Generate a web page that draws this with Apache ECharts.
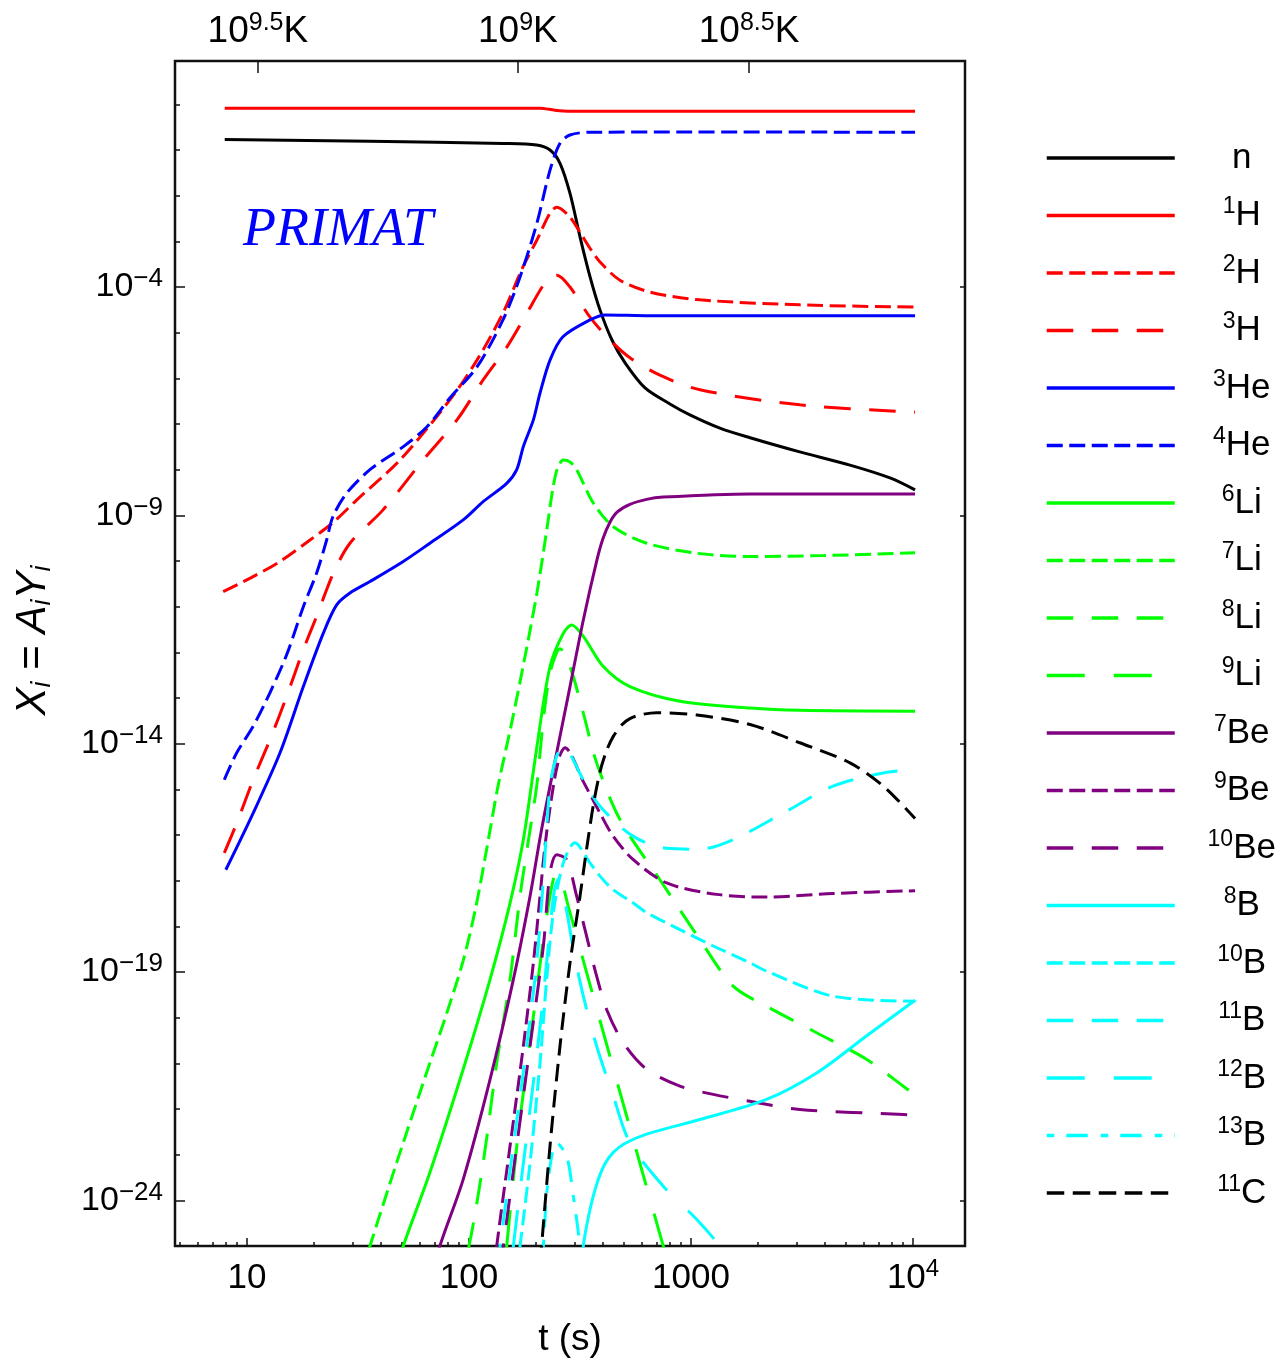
<!DOCTYPE html>
<html>
<head>
<meta charset="utf-8">
<title>BBN abundances</title>
<script src="https://cdn.jsdelivr.net/npm/echarts@6/dist/echarts.min.js"></script>
<style>
  html, body { margin: 0; padding: 0; background: #fff; }
  #chart { width: 1281px; height: 1362px; }
</style>
</head>
<body>
<div id="chart"></div>
<script>
// every point is [log10 t (s), log10 X]
const n    = [[0.9,-0.77],[1.554,-0.805],[2.155,-0.855],[2.305,-0.89],[2.365,-1.0],[2.41,-1.29],[2.455,-1.95],[2.5,-2.9],[2.545,-3.77],[2.59,-4.5],[2.644,-5.16],[2.703,-5.66],[2.793,-6.21],[2.905,-6.56],[2.995,-6.8],[3.13,-7.09],[3.266,-7.3],[3.49,-7.61],[3.716,-7.9],[3.896,-8.18],[4.009,-8.44]]
const H1   = [[0.9,-0.083],[2.2,-0.083],[2.32,-0.085],[2.387,-0.127],[2.455,-0.149],[2.6,-0.15],[4.009,-0.15]]
const H2   = [[0.893,-10.67],[1.028,-10.34],[1.149,-10.01],[1.284,-9.54],[1.387,-9.16],[1.495,-8.66],[1.689,-7.79],[1.914,-6.47],[2.036,-5.6],[2.153,-4.57],[2.243,-3.56],[2.306,-2.97],[2.365,-2.38],[2.396,-2.25],[2.455,-2.47],[2.5,-2.8],[2.545,-3.15],[2.59,-3.45],[2.68,-3.85],[2.815,-4.11],[3.04,-4.28],[3.49,-4.39],[4.009,-4.44]]
const H3   = [[0.898,-16.39],[0.954,-15.74],[1.028,-14.79],[1.104,-13.91],[1.179,-12.96],[1.254,-11.94],[1.314,-11.21],[1.389,-10.27],[1.464,-9.61],[1.613,-8.88],[1.793,-7.79],[1.946,-6.91],[2.063,-6.04],[2.171,-5.31],[2.261,-4.57],[2.351,-3.85],[2.396,-3.74],[2.455,-4.0],[2.545,-4.66],[2.635,-5.16],[2.725,-5.55],[2.86,-5.93],[3.04,-6.25],[3.49,-6.58],[4.009,-6.74]]
const He3  = [[0.905,-16.76],[1.028,-15.52],[1.149,-14.2],[1.254,-12.75],[1.344,-11.58],[1.404,-10.96],[1.464,-10.7],[1.554,-10.45],[1.704,-10.01],[1.824,-9.61],[1.974,-9.1],[2.064,-8.7],[2.17,-8.3],[2.215,-8.0],[2.245,-7.49],[2.29,-6.91],[2.32,-6.32],[2.365,-5.6],[2.423,-5.09],[2.545,-4.72],[2.613,-4.61],[2.815,-4.63],[4.009,-4.63]]
const He4  = [[0.898,-14.79],[0.954,-14.2],[1.028,-13.62],[1.104,-12.88],[1.179,-12.05],[1.254,-11.0],[1.314,-10.26],[1.359,-9.54],[1.387,-9.03],[1.45,-8.51],[1.554,-8.0],[1.703,-7.5],[1.811,-7.06],[1.914,-6.43],[2.036,-5.75],[2.153,-4.72],[2.23,-3.78],[2.306,-2.6],[2.365,-1.44],[2.41,-0.85],[2.455,-0.67],[2.545,-0.61],[3.0,-0.605],[4.009,-0.61]]
const Li6  = [[1.64,-26.0],[1.704,-25.0],[1.824,-23.39],[1.974,-21.13],[2.095,-19.16],[2.185,-17.49],[2.245,-16.1],[2.305,-14.1],[2.365,-12.31],[2.425,-11.58],[2.463,-11.4],[2.515,-11.65],[2.605,-12.31],[2.725,-12.75],[2.95,-13.07],[3.266,-13.22],[3.49,-13.27],[4.009,-13.29]]
const Li7  = [[1.49,-26.0],[1.554,-25.0],[1.674,-23.18],[1.824,-20.99],[1.9,-19.9],[1.974,-18.75],[2.03,-17.6],[2.08,-16.3],[2.13,-14.95],[2.19,-13.6],[2.248,-12.2],[2.306,-10.7],[2.351,-9.3],[2.38,-8.35],[2.4,-7.95],[2.425,-7.79],[2.455,-7.83],[2.485,-8.0],[2.56,-8.73],[2.65,-9.25],[2.8,-9.61],[3.026,-9.83],[3.266,-9.9],[3.6,-9.88],[4.009,-9.82]]
const Li8  = [[1.94,-26.0],[2.0,-25.0],[2.064,-23.18],[2.125,-20.99],[2.185,-19.16],[2.23,-17.34],[2.265,-16.2],[2.305,-14.93],[2.335,-13.47],[2.365,-12.45],[2.395,-12.0],[2.41,-11.92],[2.455,-12.31],[2.515,-13.33],[2.575,-14.42],[2.68,-15.66],[2.86,-16.98],[3.04,-18.29],[3.19,-19.31],[3.34,-19.75],[3.566,-20.33],[3.79,-20.91],[3.956,-21.5],[4.009,-21.69]]
const Li9  = [[2.14,-26.5],[2.17,-25.0],[2.22,-22.6],[2.275,-20.55],[2.335,-18.29],[2.373,-17.12],[2.395,-16.79],[2.455,-17.7],[2.515,-18.75],[2.575,-19.8],[2.665,-21.37],[2.785,-23.45],[2.875,-25.0],[2.95,-26.3]]
const Be7  = [[1.8,-26.2],[1.869,-25.0],[1.974,-23.54],[2.095,-21.35],[2.2,-19.16],[2.275,-17.34],[2.327,-15.88],[2.395,-14.2],[2.455,-12.75],[2.515,-11.29],[2.575,-10.0],[2.604,-9.5],[2.635,-9.15],[2.667,-8.93],[2.725,-8.76],[2.8,-8.65],[2.875,-8.6],[3.266,-8.53],[4.009,-8.53]]
const Be9  = [[2.09,-26.5],[2.125,-25.0],[2.185,-22.81],[2.245,-20.62],[2.29,-18.8],[2.32,-17.34],[2.342,-16.25],[2.38,-14.93],[2.41,-14.25],[2.432,-14.09],[2.515,-14.83],[2.59,-15.52],[2.65,-16.03],[2.74,-16.54],[2.89,-17.05],[3.115,-17.3],[3.34,-17.36],[3.64,-17.28],[4.009,-17.22]]
const Be10 = [[2.12,-26.5],[2.155,-25.0],[2.215,-22.81],[2.275,-20.62],[2.335,-18.43],[2.365,-16.83],[2.395,-16.43],[2.44,-16.54],[2.485,-17.34],[2.53,-18.22],[2.575,-19.09],[2.62,-19.82],[2.695,-20.55],[2.8,-21.13],[2.95,-21.5],[3.1,-21.68],[3.266,-21.83],[3.49,-22.01],[3.956,-22.12],[4.009,-22.13]]
const B8   = [[2.49,-26.5],[2.515,-25.0],[2.545,-24.2],[2.575,-23.65],[2.61,-23.22],[2.65,-22.95],[2.7,-22.76],[2.8,-22.55],[3.04,-22.23],[3.34,-21.79],[3.566,-21.21],[3.79,-20.4],[4.009,-19.62]]
const B10  = [[2.19,-26.5],[2.23,-25.0],[2.275,-23.18],[2.32,-20.99],[2.35,-19.16],[2.38,-17.7],[2.425,-16.61],[2.477,-16.17],[2.545,-16.61],[2.59,-16.9],[2.65,-17.2],[2.74,-17.49],[2.8,-17.7],[2.95,-18.07],[3.1,-18.43],[3.266,-18.8],[3.34,-18.98],[3.64,-19.53],[4.009,-19.64]]
const B11  = [[2.1,-26.5],[2.14,-25.0],[2.2,-22.81],[2.26,-20.62],[2.305,-18.8],[2.335,-16.98],[2.365,-14.93],[2.395,-14.27],[2.425,-14.09],[2.515,-14.79],[2.59,-15.37],[2.74,-16.03],[2.89,-16.29],[3.04,-16.31],[3.19,-16.1],[3.415,-15.52],[3.64,-14.93],[3.866,-14.64],[4.009,-14.57]]
const B12  = [[2.17,-26.5],[2.2,-25.0],[2.26,-22.6],[2.32,-20.2],[2.36,-18.3],[2.385,-17.2],[2.405,-16.95],[2.43,-17.4],[2.47,-18.5],[2.515,-19.53],[2.575,-20.62],[2.65,-21.72],[2.725,-22.74],[2.875,-23.69],[3.026,-24.42],[3.13,-25.0],[3.25,-25.8]]
const B13  = [[2.32,-26.2],[2.335,-25.0],[2.357,-23.54],[2.395,-22.74],[2.44,-23.03],[2.47,-23.91],[2.5,-25.0],[2.52,-26.0]]
const C11  = [[2.3,-26.5],[2.327,-25.0],[2.365,-22.81],[2.41,-20.62],[2.455,-18.8],[2.5,-17.34],[2.53,-16.3],[2.56,-15.35],[2.59,-14.62],[2.62,-14.15],[2.65,-13.84],[2.69,-13.58],[2.725,-13.45],[2.78,-13.36],[2.845,-13.32],[3.026,-13.37],[3.266,-13.58],[3.49,-13.98],[3.716,-14.42],[3.866,-14.93],[4.009,-15.64]]

// axes
const timeTicks = [10, 100, 1000, 10000]
const yTickExp = [-24, -19, -14, -9, -4]
const tempTimes = [11.2, 166, 1825]   // where 10^9.5, 10^9, 10^8.5 K fall
const tempExp = ['9.5', '9', '8.5']

const xMin = 0.676, xMax = 4.234
const yMin = -25, yMax = 0.95

const RED = '#ff0000', BLUE = '#0000ff', GREEN = '#00ff00', PURPLE = '#800080', CYAN = '#00ffff', BLACK = '#000000'
const SHORT = [16, 6.5], MED = [26.5, 18.5], LONG = [38, 29], DOTDASH = [7.5, 12, 21.5, 13], C_DASH = [17.5, 8.5]

const species = [
  ['n', n, BLACK, 'solid'],
  ['1H', H1, RED, 'solid'],
  ['2H', H2, RED, SHORT],
  ['3H', H3, RED, MED],
  ['3He', He3, BLUE, 'solid'],
  ['4He', He4, BLUE, SHORT],
  ['6Li', Li6, GREEN, 'solid'],
  ['7Li', Li7, GREEN, SHORT],
  ['8Li', Li8, GREEN, MED],
  ['9Li', Li9, GREEN, LONG],
  ['7Be', Be7, PURPLE, 'solid'],
  ['9Be', Be9, PURPLE, SHORT],
  ['10Be', Be10, PURPLE, MED],
  ['8B', B8, CYAN, 'solid'],
  ['10B', B10, CYAN, SHORT],
  ['11B', B11, CYAN, MED],
  ['12B', B12, CYAN, LONG],
  ['13B', B13, CYAN, DOTDASH],
  ['11C', C11, BLACK, C_DASH]
]

const FONT = "'Liberation Sans', Arial, sans-serif"
const lg = Math.log10

const minorX = []
for (let d = 0; d <= 4; d++) {
  for (let m = 2; m <= 9; m++) {
    const v = lg(m * Math.pow(10, d))
    if (v > xMin && v < xMax) minorX.push(v)
  }
}
const minorY = []
for (let e = -25; e <= 0; e++) minorY.push(e)

const tickStyle = { color: '#111', width: 1.5 }
const noLine = { show: false, onZero: false }
const supRich = (size, big, lh, lift) => ({
  b: { fontSize: big, lineHeight: lh, fontFamily: FONT, color: '#000' },
  sup: { fontSize: size, lineHeight: size, padding: [0, 0, lift, 0], fontFamily: FONT, color: '#000' }
})

const chart = echarts.init(document.getElementById('chart'))

const option = {
  backgroundColor: '#fff',
  animation: false,
  grid: [
    { left: 175, right: 316, top: 61, bottom: 116, show: true, borderColor: '#111', borderWidth: 2.5, backgroundColor: 'transparent', outerBoundsMode: 'none' },
    { left: 175, right: 316, top: 61, bottom: 116, show: false, outerBoundsMode: 'none' }
  ],
  xAxis: [
    {
      type: 'value', gridIndex: 0, position: 'bottom', min: xMin, max: xMax,
      axisLine: noLine, splitLine: { show: false },
      axisTick: { show: true, inside: true, length: 4, customValues: minorX, lineStyle: tickStyle },
      axisLabel: { show: false }
    },
    {
      type: 'value', gridIndex: 0, position: 'top', min: xMin, max: xMax,
      axisLine: noLine, splitLine: { show: false },
      axisTick: { show: true, inside: true, length: 12, customValues: tempTimes.map(lg), lineStyle: tickStyle },
      axisLabel: {
        customValues: tempTimes.map(lg), margin: 8,
        formatter: v => {
          const i = tempTimes.findIndex(t => Math.abs(lg(t) - v) < 1e-6)
          return '{b|10}{sup|' + tempExp[i] + '}{b|K}'
        },
        rich: supRich(25, 37, 42, 18)
      }
    },
    {
      type: 'value', gridIndex: 1, position: 'bottom', min: xMin, max: xMax,
      axisLine: noLine, splitLine: { show: false },
      axisTick: { show: true, inside: true, length: 8, customValues: timeTicks.map(lg), lineStyle: tickStyle },
      axisLabel: {
        customValues: timeTicks.map(lg), margin: 12,
        formatter: v => {
          const t = Math.round(Math.pow(10, v))
          return t === 10000 ? '{b|10}{sup|4}' : '{b|' + t + '}'
        },
        rich: supRich(24, 35, 40, 18)
      },
      name: 't (s)', nameLocation: 'middle', nameGap: 74,
      nameTextStyle: { fontSize: 37, lineHeight: 40, fontFamily: FONT, color: '#000' }
    }
  ],
  yAxis: [
    {
      type: 'value', gridIndex: 0, position: 'left', min: yMin, max: yMax,
      axisLine: noLine, splitLine: { show: false },
      axisTick: { show: true, inside: true, length: 5, customValues: minorY, lineStyle: tickStyle },
      axisLabel: { show: false }
    },
    {
      type: 'value', gridIndex: 0, position: 'right', min: yMin, max: yMax,
      axisLine: noLine, splitLine: { show: false },
      axisTick: { show: true, inside: true, length: 5, customValues: yTickExp, lineStyle: tickStyle },
      axisLabel: { show: false }
    },
    {
      type: 'value', gridIndex: 1, position: 'left', min: yMin, max: yMax,
      axisLine: noLine, splitLine: { show: false },
      axisTick: { show: true, inside: true, length: 10, customValues: yTickExp, lineStyle: tickStyle },
      axisLabel: {
        customValues: yTickExp, margin: 12,
        formatter: v => '{b|10}{sup|\u2212' + Math.abs(v) + '}',
        rich: supRich(26, 34, 40, 16)
      },
      name: '{it|X}{sub|i}{n| = }{it|A}{sub|i}{it|Y}{sub|i}',
      nameLocation: 'middle', nameGap: 118,
      nameTextStyle: {
        fontFamily: FONT, color: '#000', fontSize: 42, padding: [0, 0, 0, 26],
        rich: {
          it: { fontStyle: 'italic', fontSize: 42, lineHeight: 48, fontFamily: FONT, color: '#000' },
          sub: { fontStyle: 'italic', fontSize: 27, lineHeight: 27, padding: [18, 0, 0, 0], fontFamily: FONT, color: '#000' },
          n: { fontSize: 42, lineHeight: 48, fontFamily: FONT, color: '#000' }
        }
      }
    }
  ],
  legend: {
    orient: 'vertical', left: 1040, top: 133, padding: 5,
    itemWidth: 128, itemHeight: 14, itemGap: 17.5,
    selectedMode: false,
    itemStyle: { opacity: 0 },
    lineStyle: { width: 3.5 },
    data: species.map(s => s[0]),
    formatter: name => {
      const m = name.match(/^(\d*)(\D+)$/)
      return (m[1] ? '{sup|' + m[1] + '}' : '') + '{b|' + m[2] + '}'
    },
    textStyle: {
      width: 124, color: '#000', fontFamily: FONT, fontSize: 35, lineHeight: 40,
      rich: {
        b: { fontSize: 35, lineHeight: 40, align: 'center', fontFamily: FONT, color: '#000' },
        sup: { fontSize: 23, lineHeight: 23, padding: [0, 0, 17, 0], align: 'center', fontFamily: FONT, color: '#000' }
      }
    }
  },
  graphic: [{
    type: 'text', x: 243, y: 231,
    style: { text: 'PRIMAT', fontFamily: "'Liberation Serif', 'Times New Roman', serif", fontStyle: 'italic', fontSize: 54, fill: BLUE, verticalAlign: 'middle', align: 'left' }
  }],
  series: species.map(([name, data, color, dash]) => ({
    name,
    type: 'line',
    xAxisIndex: 0,
    yAxisIndex: 0,
    data,
    symbol: 'none',
    smooth: 0.3,
    clip: true,
    lineStyle: { color, width: 3, type: dash },
    itemStyle: { color },
    emphasis: { disabled: true }
  }))
}

chart.setOption(option)
</script>
</body>
</html>
